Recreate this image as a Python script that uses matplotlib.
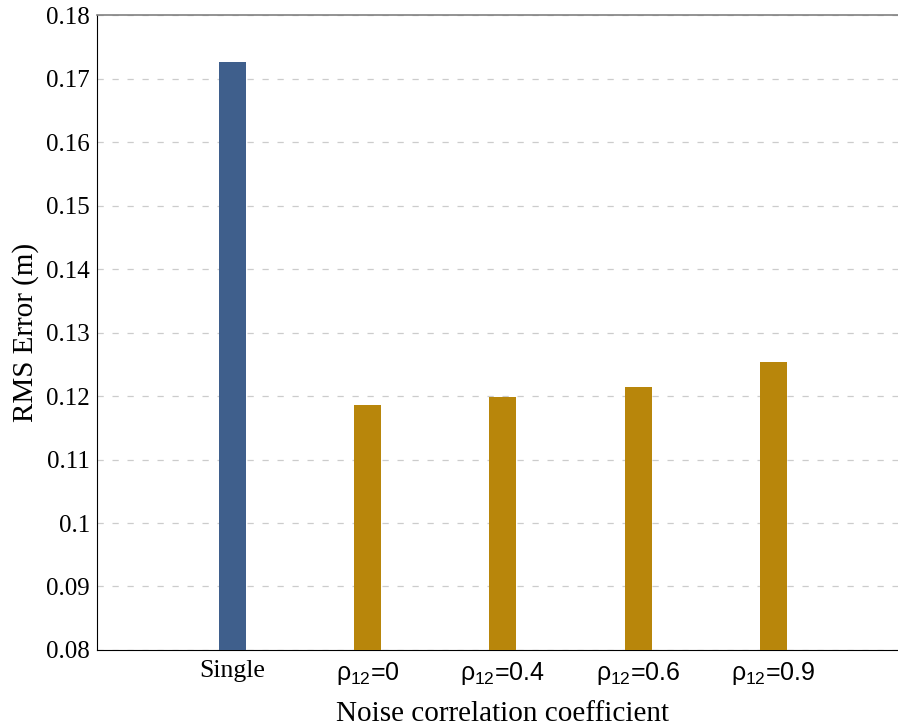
#!/usr/bin/env python

import numpy as np
import matplotlib
matplotlib.use('Agg')
import matplotlib.pyplot as plt

labels = ['Single', r'$\rho_{12}$=0', r'$\rho_{12}$=0.4', r'$\rho_{12}$=0.6', r'$\rho_{12}$=0.9']
rms_err = [0.1726, 0.1186, 0.1199, 0.1214, 0.1254]
colors = ['#3f5f8c', '#b8860b', '#b8860b', '#b8860b', '#b8860b']
yticks = ['0.08', '0.09', '0.1', '0.11', '0.12', '0.13', '0.14', '0.15', '0.16', '0.17', '0.18']

plt.rcParams['mathtext.fontset'] = 'custom'
plt.rcParams['mathtext.rm'] = 'Liberation Sans'
plt.rcParams['mathtext.it'] = 'Liberation Sans'

fig = plt.figure(figsize=(8.98, 7.27), dpi=100)
# axes runs a bit past the right edge of the picture
ax = fig.add_axes([0.108, 0.106, 0.904, 0.873])

x = np.arange(len(labels))
ax.bar(x, rms_err, width=0.2, color=colors, zorder=3)

ax.set_xlim(-1, 5)
ax.set_ylim(0.08, 0.18)
ax.set_yticks(np.arange(0.08, 0.1801, 0.01))
ax.set_yticklabels(yticks, family='Liberation Serif', fontsize=18)
ax.set_xticks(x)
ax.set_xticklabels(labels, fontsize=18)
for i, t in enumerate(ax.get_xticklabels()):
	if i == 0:
		t.set_family('Liberation Serif')
		t.set_fontsize(18.5)
	else:
		t.set_family('Liberation Sans')
ax.tick_params(axis='y', length=0, pad=5)
ax.tick_params(axis='x', length=0, pad=7)

ax.yaxis.grid(True, linestyle=(0, (5, 7)), color='#cccccc', linewidth=0.9, zorder=0)

ax.spines['right'].set_visible(False)
ax.spines['top'].set_color('#808080')
ax.spines['top'].set_linewidth(1.2)
ax.spines['left'].set_color('black')
ax.spines['bottom'].set_color('black')

ax.set_ylabel('RMS Error (m)', family='Liberation Serif', fontsize=21, labelpad=5)
ax.set_xlabel('Noise correlation coefficient', family='Liberation Serif', fontsize=21, labelpad=10)

plt.savefig('out.png', dpi=100)
